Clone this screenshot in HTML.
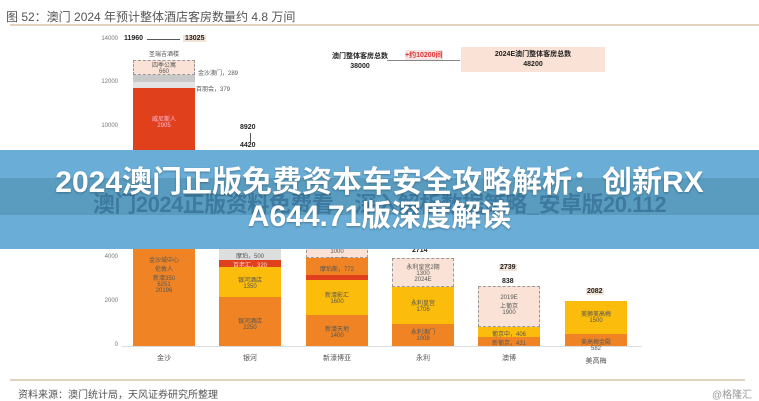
<!DOCTYPE html>
<html><head><meta charset="utf-8"><style>
*{margin:0;padding:0;box-sizing:border-box}
body{width:759px;height:400px;background:#fff;position:relative;overflow:hidden;font-family:"Liberation Sans","Noto Sans CJK SC",sans-serif;color:#444}
.a{position:absolute}
.t{position:absolute;font-size:6px;color:#555;text-align:center;white-space:nowrap}
.b{position:absolute}
.d{position:absolute;border:1px dashed #999;background:#fae3d6}
.y{font-size:6px;color:#777;position:absolute;left:94px;width:24px;text-align:right}
.c{font-size:7px;color:#555;position:absolute;top:353px;width:62px;text-align:center}
.n{position:absolute;font-size:7px;font-weight:bold;color:#222;text-align:center;white-space:nowrap}
</style></head><body>
<div class="a" style="left:6px;top:8px;font-size:12px;color:#555">图 52：澳门 2024 年预计整体酒店客房数量约 4.8 万间</div>
<div class="a" style="left:10px;top:24px;width:750px;height:2px;background:#e2d3bd"></div>

<div class="y" style="top:36px">14000</div>
<div class="y" style="top:79px">12000</div>
<div class="y" style="top:123px">10000</div>
<div class="y" style="top:254px">4000</div>
<div class="y" style="top:298px">2000</div>
<div class="y" style="top:342px">0</div>
<div class="a" style="left:122px;top:346px;width:520px;height:1px;background:#ddd"></div>

<!-- 金沙 -->
<div class="n" style="left:124px;top:35px">11960</div>
<div class="a" style="left:147px;top:39px;width:33px;height:1px;background:#555"></div>
<div class="n" style="left:183px;top:35px;background:#f3e3d6;padding:0 2px">13025</div>
<div class="t" style="left:133px;top:49px;width:62px">圣瑞吉酒楼</div>
<div class="d" style="left:133px;top:60px;width:62px;height:15px"></div>
<div class="t" style="left:133px;top:60px;width:62px">四季公寓<br>660</div>
<div class="b" style="left:133px;top:75px;width:62px;height:7px;background:#c9c9c9"></div>
<div class="b" style="left:133px;top:82px;width:62px;height:6px;background:#e3e3e3"></div>
<div class="t" style="left:198px;top:68px">金沙澳门，289</div>
<div class="t" style="left:196px;top:84px">百朋会，379</div>
<div class="b" style="left:133px;top:88px;width:62px;height:64px;background:#e0401b"></div>
<div class="t" style="left:133px;top:114px;width:62px;color:#fbd">威尼斯人<br>2905</div>
<div class="b" style="left:133px;top:152px;width:62px;height:194px;background:#f08424"></div>
<div class="t" style="left:133px;top:255px;width:62px">金沙城中心<br>伦敦人<br>新濠350<br>6251<br>20196</div>
<div class="c" style="left:133px">金沙</div>

<!-- 银河 -->
<div class="n" style="left:240px;top:124px">8920</div>
<div class="a" style="left:250px;top:133px;width:1px;height:9px;background:#555"></div>
<div class="n" style="left:240px;top:142px">4420</div>
<div class="d" style="left:219px;top:150px;width:62px;height:99px"></div>
<div class="b" style="left:219px;top:249px;width:62px;height:11px;background:#dedede"></div>
<div class="t" style="left:219px;top:251px;width:62px">摩珀，500</div>
<div class="b" style="left:219px;top:260px;width:62px;height:7px;background:#e0401b"></div>
<div class="t" style="left:219px;top:260px;width:62px;color:#fdd">百老汇，320</div>
<div class="b" style="left:219px;top:267px;width:62px;height:30px;background:#fbbc0c"></div>
<div class="t" style="left:219px;top:275px;width:62px">银河酒店<br>1350</div>
<div class="b" style="left:219px;top:297px;width:62px;height:49px;background:#f08424"></div>
<div class="t" style="left:219px;top:316px;width:62px">银河酒店<br>2250</div>
<div class="c" style="left:219px">银河</div>

<!-- 新濠 -->
<div class="d" style="left:306px;top:175px;width:62px;height:83px"></div>
<div class="t" style="left:306px;top:249px;width:62px">1000<br>2023年</div>
<div class="b" style="left:306px;top:258px;width:62px;height:17px;background:#f08424"></div>
<div class="t" style="left:306px;top:264px;width:62px">摩珀斯，772</div>
<div class="b" style="left:306px;top:275px;width:62px;height:5px;background:#e0401b"></div>
<div class="b" style="left:306px;top:280px;width:62px;height:35px;background:#fbbc0c"></div>
<div class="t" style="left:306px;top:290px;width:62px">新濠影汇<br>1600</div>
<div class="b" style="left:306px;top:315px;width:62px;height:31px;background:#f08424"></div>
<div class="t" style="left:306px;top:324px;width:62px">新濠天地<br>1400</div>
<div class="c" style="left:306px">新濠博亚</div>

<!-- 永利 -->
<div class="n" style="left:412px;top:247px">2714</div>
<div class="d" style="left:392px;top:258px;width:62px;height:29px"></div>
<div class="t" style="left:392px;top:262px;width:62px">永利皇宫2期<br>1300<br>2024E</div>
<div class="b" style="left:392px;top:287px;width:62px;height:37px;background:#fbbc0c"></div>
<div class="t" style="left:392px;top:298px;width:62px">永利皇宫<br>1706</div>
<div class="b" style="left:392px;top:324px;width:62px;height:22px;background:#f08424"></div>
<div class="t" style="left:392px;top:327px;width:62px">永利澳门<br>1008</div>
<div class="c" style="left:392px">永利</div>

<!-- 澳博 -->
<div class="n" style="left:499px;top:264px;background:#f3e3d6;padding:0 1px">2739</div>
<div class="n" style="left:502px;top:278px">838</div>
<div class="d" style="left:478px;top:286px;width:62px;height:41px"></div>
<div class="t" style="left:478px;top:295px;width:62px">2019E<br>上葡京<br>1900</div>
<div class="b" style="left:478px;top:327px;width:62px;height:10px;background:#fbbc0c"></div>
<div class="t" style="left:478px;top:329px;width:62px">葡京中，406</div>
<div class="b" style="left:478px;top:337px;width:62px;height:9px;background:#f08424"></div>
<div class="t" style="left:478px;top:338px;width:62px">新葡京，431</div>
<div class="c" style="left:478px">澳博</div>

<!-- 美高梅 -->
<div class="n" style="left:586px;top:288px;background:#f3e3d6;padding:0 1px">2082</div>
<div class="b" style="left:565px;top:301px;width:62px;height:33px;background:#fbbc0c"></div>
<div class="t" style="left:565px;top:309px;width:62px">美狮美高梅<br>1500</div>
<div class="b" style="left:565px;top:334px;width:62px;height:12px;background:#f08424"></div>
<div class="t" style="left:565px;top:337px;width:62px">美高梅金殿</div>
<div class="t" style="left:565px;top:346px;width:62px">582</div>
<div class="c" style="left:565px;top:356px">美高梅</div>

<!-- top right -->
<div class="n" style="left:330px;top:52px;width:60px;line-height:10px">澳门整体客房总数<br>38000</div>
<div class="a" style="left:387px;top:60px;width:73px;height:1px;background:#888"></div>
<div class="a" style="left:405px;top:50px;font-size:7px;color:#d33;font-weight:bold;background:#f7e4e4">+约10200间</div>
<div class="a" style="left:461px;top:47px;width:144px;height:25px;background:#fae3d6"></div>
<div class="n" style="left:461px;top:50px;width:144px;line-height:10px">2024E澳门整体客房总数<br>48200</div>

<!-- banner -->
<div class="a" style="left:0;top:150px;width:759px;height:99px;background:#6aaed8"></div>
<div class="a" style="left:0;top:178px;width:759px;height:37px;background:#4f8fb0;opacity:.6"></div>
<div class="a" style="left:0;top:187px;width:759px;text-align:center;font-size:22px;font-weight:bold;color:#3e7a9f;letter-spacing:-.5px">澳门2024正版资料免费看，深入解析数据策略_安卓版20.112</div>
<div class="a" style="left:0;top:166px;width:759px;text-align:center;font-size:30px;font-weight:bold;color:#fff;line-height:34px;text-shadow:0 1px 2px rgba(0,0,0,.3)">2024澳门正版免费资本车安全攻略解析：创新RX<br>A644.71版深度解读</div>

<div class="a" style="left:10px;top:379px;width:735px;height:2px;background:#e2d3bd"></div>
<div class="a" style="left:18px;top:386px;font-size:10px;color:#555">资料来源：澳门统计局，天风证券研究所整理</div>
<div class="a" style="left:712px;top:386px;font-size:10px;color:#999">@格隆汇</div>
</body></html>
